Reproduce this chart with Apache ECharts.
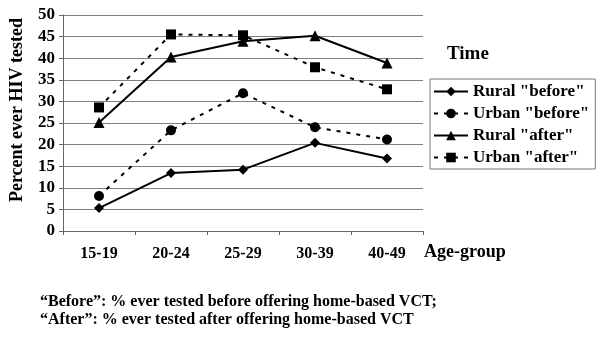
<!DOCTYPE html>
<html>
<head>
<meta charset="utf-8">
<script src="https://cdn.jsdelivr.net/npm/echarts@6/dist/echarts.min.js"></script>
<style>
  html, body { margin: 0; padding: 0; background: #fff; }
  #chart { width: 600px; height: 339px; }
</style>
</head>
<body>
<div id="chart"></div>
<script>
    // 数据
    var ageGroups = ['15-19', '20-24', '25-29', '30-39', '40-49'];
    var ruralBefore = [5.3, 13.4, 14.2, 20.4, 16.8];
    var urbanBefore = [8.1, 23.3, 31.9, 24.0, 21.2];
    var ruralAfter = [25.1, 40.3, 43.9, 45.2, 38.9];
    var urbanAfter = [28.6, 45.5, 45.3, 37.9, 32.8];

    var serif = '"Liberation Serif", "DejaVu Serif", serif';
    var chart = echarts.init(document.getElementById('chart'));

    function makeSeries(name, data, symbol, size, dashed) {
        return {
            name: name,
            type: 'line',
            data: data,
            symbol: symbol,
            symbolSize: size,
            showAllSymbol: true,
            itemStyle: { color: '#000' },
            lineStyle: { color: '#000', width: 2, type: dashed ? [4, 6] : 'solid' },
            emphasis: { disabled: true },
            animation: false
        };
    }

    chart.setOption({
        animation: false,
        grid: { left: 63, top: 15, width: 360, height: 216 },
        legend: {
            orient: 'vertical',
            left: 430, top: 79,
            padding: [4, 6, 3, 3],
            itemGap: 5,
            itemWidth: 34, itemHeight: 12,
            borderColor: '#777', borderWidth: 1,
            textStyle: { fontFamily: serif, fontWeight: 'bold', fontSize: 17, color: '#000' },
            data: ['Rural "before"', 'Urban "before"', 'Rural "after"', 'Urban "after"']
        },
        xAxis: {
            type: 'category',
            data: ageGroups,
            boundaryGap: true,
            axisLine: { lineStyle: { color: '#666', width: 1 } },
            axisTick: { show: true, inside: false, length: 4, lineStyle: { color: '#666' } },
            axisLabel: { margin: 15, fontFamily: serif, fontWeight: 'bold', fontSize: 16, color: '#000' }
        },
        yAxis: {
            type: 'value',
            min: 0, max: 50, interval: 5,
            axisLine: { show: true, lineStyle: { color: '#666' } },
            axisTick: { show: true, length: 4, lineStyle: { color: '#666' } },
            axisLabel: { margin: 8, fontFamily: serif, fontWeight: 'bold', fontSize: 17, color: '#000' },
            splitLine: { lineStyle: { color: '#808080', width: 1 } }
        },
        graphic: [
            /*纵轴标题*/
            { type: 'text', x: 17, y: 110, rotation: Math.PI / 2,
              style: { text: 'Percent ever HIV tested', font: 'bold 18px ' + serif, fill: '#000', align: 'center', verticalAlign: 'middle' } },
            { type: 'text', left: 447, top: 45, style: { text: 'Time', font: 'bold 19px ' + serif, fill: '#000' } },
            { type: 'text', left: 424, top: 243, style: { text: 'Age-group', font: 'bold 18px ' + serif, fill: '#000' } },
            { type: 'text', left: 40, top: 294, style: { text: '\u201CBefore\u201D: % ever tested before offering home-based VCT;', font: 'bold 16px ' + serif, fill: '#000' } },
            { type: 'text', left: 40, top: 312, style: { text: '\u201CAfter\u201D: % ever tested after offering home-based VCT', font: 'bold 16px ' + serif, fill: '#000' } }
        ],
        series: [
            makeSeries('Rural "before"', ruralBefore, 'diamond', 10, false),
            makeSeries('Urban "before"', urbanBefore, 'circle', 10, true),
            makeSeries('Rural "after"', ruralAfter, 'triangle', 11, false),
            makeSeries('Urban "after"', urbanAfter, 'rect', 10, true)
        ]
    });
</script>
</body>
</html>
